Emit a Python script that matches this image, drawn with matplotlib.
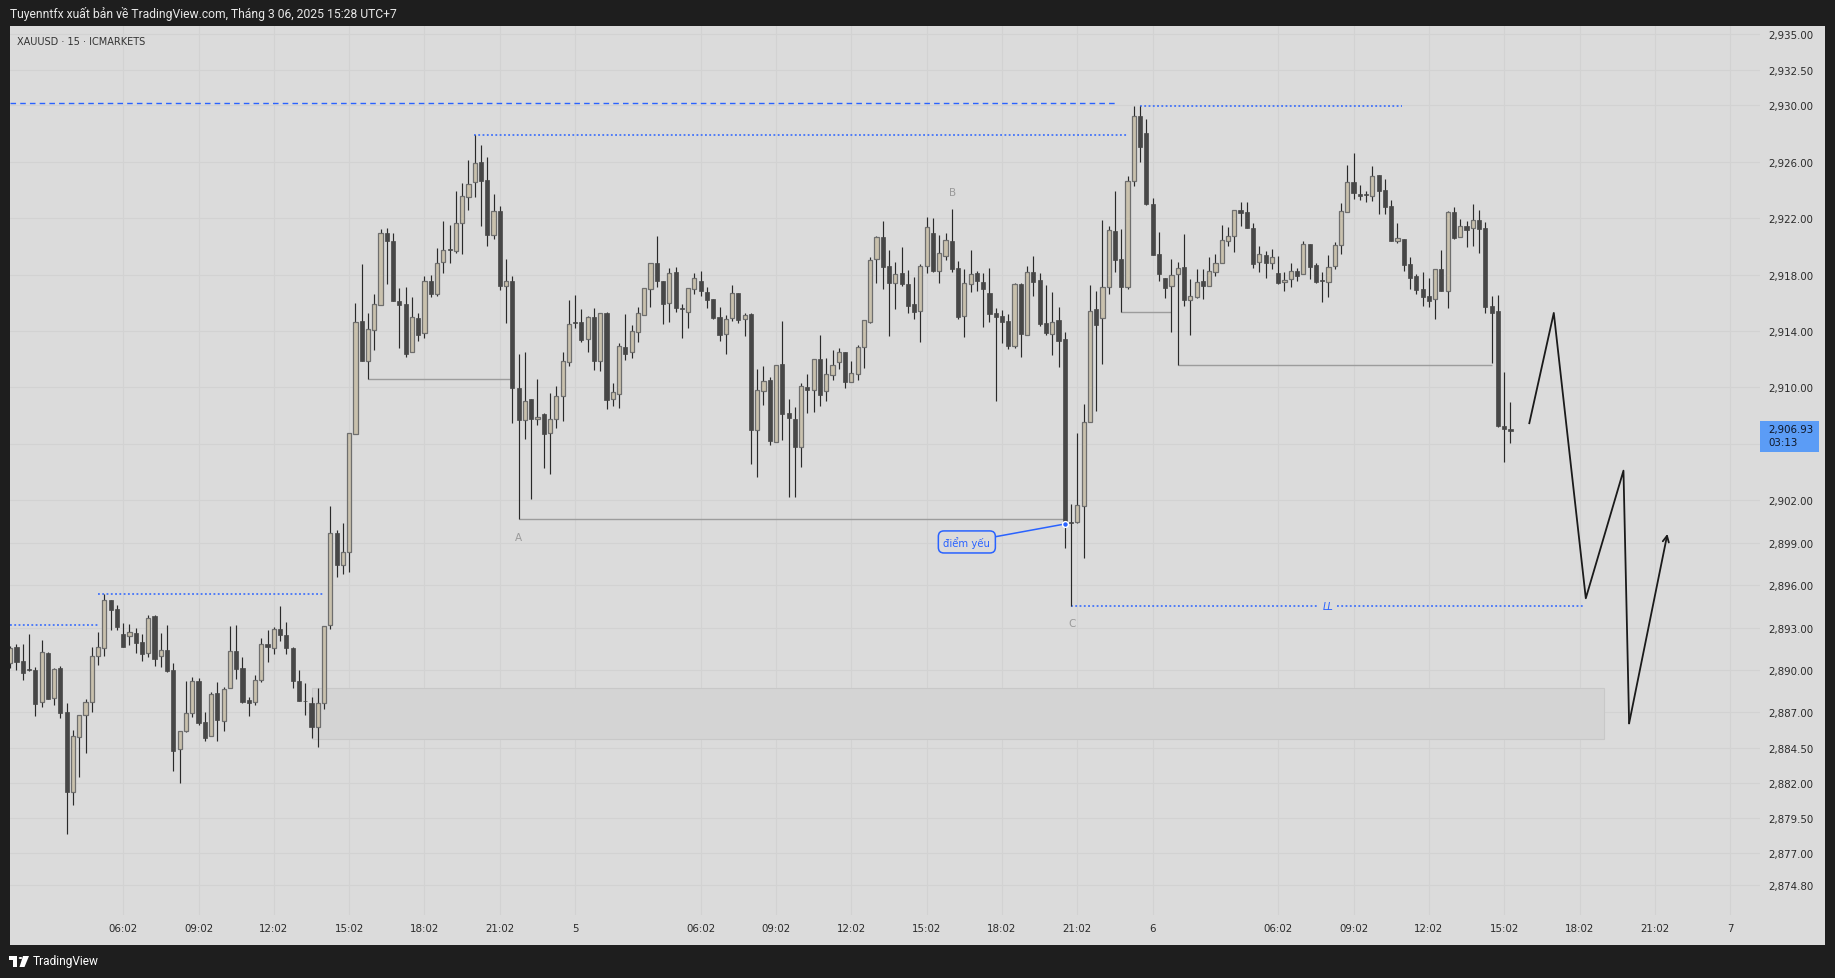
import matplotlib
matplotlib.use("Agg")
import matplotlib.pyplot as plt
from matplotlib.patches import Rectangle, Circle, Polygon
import numpy as np

# ---------------- data (XAUUSD 15m, ICMARKETS) ----------------
opens = [
 2890.47, 2891.60, 2890.61, 2889.97, 2889.97, 2887.70, 2891.17, 2887.99, 2890.13, 2886.99,
 2881.33, 2885.22, 2886.78, 2887.70, 2890.96, 2891.53, 2894.93, 2894.31, 2892.52, 2892.42,
 2892.61, 2891.98, 2891.17, 2893.82, 2890.96, 2891.39, 2889.97, 2884.37, 2885.70, 2886.92,
 2889.19, 2886.29, 2885.29, 2888.34, 2886.36, 2888.70, 2891.31, 2890.13, 2887.87, 2887.70,
 2889.26, 2891.83, 2891.52, 2892.88, 2892.45, 2891.52, 2889.18, 2887.77, 2887.62, 2885.95,
 2887.62, 2893.17, 2899.68, 2897.42, 2898.37, 2906.70, 2914.71, 2911.90, 2914.04, 2915.86,
 2920.92, 2920.40, 2916.12, 2915.92, 2912.48, 2914.91, 2913.84, 2917.54, 2916.64, 2918.87,
 2919.74, 2919.68, 2921.62, 2923.52, 2924.54, 2925.98, 2924.68, 2920.78, 2922.48, 2917.16,
 2917.54, 2909.94, 2907.67, 2909.18, 2907.74, 2908.12, 2906.75, 2907.74, 2909.37, 2911.78,
 2914.57, 2914.61, 2913.41, 2914.97, 2911.90, 2915.25, 2909.16, 2909.52, 2912.84, 2912.49,
 2913.91, 2915.11, 2916.95, 2918.79, 2917.52, 2915.96, 2918.16, 2915.54, 2915.32, 2916.95,
 2917.52, 2916.74, 2916.27, 2914.99, 2913.77, 2914.90, 2916.67, 2914.83, 2915.21, 2907.01,
 2909.78, 2910.53, 2906.16, 2911.66, 2908.19, 2907.77, 2905.81, 2910.01, 2909.85, 2912.02,
 2909.78, 2910.91, 2911.78, 2912.51, 2910.37, 2910.93, 2912.85, 2914.66, 2919.08, 2920.66,
 2918.61, 2917.42, 2918.09, 2917.31, 2915.89, 2915.39, 2918.58, 2920.92, 2918.23, 2919.29,
 2920.38, 2918.46, 2915.04, 2917.35, 2918.09, 2917.45, 2916.69, 2915.28, 2915.09, 2914.71,
 2912.96, 2917.33, 2913.69, 2918.16, 2917.61, 2914.57, 2913.81, 2914.78, 2913.43, 2900.40,
 2900.45, 2901.63, 2907.53, 2915.56, 2914.90, 2917.09, 2921.06, 2919.10, 2917.14, 2924.60,
 2929.20, 2928.00, 2922.99, 2919.43, 2917.75, 2917.16, 2918.01, 2918.53, 2916.17, 2916.39,
 2917.54, 2917.16, 2918.16, 2918.79, 2920.35, 2920.71, 2922.55, 2922.41, 2921.27, 2918.86,
 2919.36, 2918.79, 2918.11, 2917.45, 2917.66, 2918.25, 2918.01, 2920.14, 2918.68, 2917.52,
 2917.45, 2918.58, 2920.07, 2922.41, 2924.53, 2923.70, 2923.61, 2923.59, 2925.03, 2923.99,
 2922.85, 2920.40, 2920.49, 2918.72, 2917.90, 2916.98, 2916.48, 2916.24, 2918.37, 2916.81,
 2922.43, 2920.64, 2921.44, 2921.27, 2921.84, 2921.27, 2915.75, 2915.42, 2907.27, 2907.04]
highs = [
 2891.67, 2891.83, 2891.83, 2892.52, 2890.18, 2892.12, 2891.27, 2890.13, 2890.25, 2887.66,
 2885.72, 2886.78, 2887.94, 2891.60, 2892.66, 2895.35, 2894.93, 2894.60, 2893.30, 2893.25,
 2892.97, 2892.54, 2893.89, 2893.89, 2892.61, 2893.18, 2890.47, 2885.70, 2889.21, 2889.50,
 2889.40, 2887.02, 2888.41, 2889.12, 2888.77, 2893.08, 2893.16, 2890.89, 2888.08, 2889.61,
 2892.24, 2892.83, 2893.03, 2894.53, 2893.40, 2891.64, 2889.99, 2889.04, 2888.06, 2888.69,
 2893.09, 2901.61, 2899.88, 2900.40, 2906.76, 2915.98, 2918.75, 2915.28, 2916.59, 2921.21,
 2921.27, 2920.92, 2917.08, 2917.11, 2916.41, 2915.26, 2917.91, 2917.97, 2919.91, 2921.79,
 2921.50, 2923.90, 2924.45, 2926.12, 2927.86, 2927.14, 2926.33, 2923.70, 2922.86, 2919.10,
 2917.89, 2912.39, 2912.51, 2909.18, 2910.60, 2908.17, 2909.61, 2910.08, 2912.51, 2916.20,
 2916.55, 2915.56, 2915.09, 2915.63, 2915.25, 2915.37, 2910.32, 2913.15, 2915.21, 2914.45,
 2915.73, 2917.02, 2918.79, 2920.73, 2917.52, 2918.46, 2918.53, 2915.91, 2917.02, 2918.11,
 2918.25, 2917.14, 2916.27, 2915.70, 2915.13, 2917.26, 2916.67, 2915.25, 2915.25, 2911.31,
 2911.52, 2910.77, 2911.57, 2914.71, 2909.19, 2908.59, 2910.32, 2910.93, 2912.02, 2913.74,
 2912.11, 2912.66, 2912.77, 2912.51, 2911.88, 2913.03, 2914.76, 2919.27, 2920.73, 2921.79,
 2919.74, 2918.89, 2919.95, 2918.32, 2917.80, 2918.75, 2922.08, 2922.00, 2920.82, 2920.94,
 2922.64, 2918.96, 2918.39, 2919.74, 2918.25, 2918.11, 2918.44, 2915.63, 2915.49, 2915.21,
 2917.38, 2917.38, 2918.58, 2919.29, 2918.11, 2917.26, 2916.79, 2915.70, 2913.91, 2901.75,
 2906.78, 2908.83, 2917.26, 2916.83, 2921.86, 2921.41, 2923.92, 2921.23, 2925.00, 2929.90,
 2929.90, 2929.00, 2923.42, 2920.99, 2917.75, 2919.10, 2918.86, 2920.87, 2917.68, 2918.39,
 2918.39, 2919.22, 2919.48, 2921.51, 2921.34, 2922.55, 2923.11, 2923.14, 2921.65, 2920.02,
 2919.67, 2919.81, 2919.29, 2918.20, 2918.82, 2918.44, 2920.38, 2920.14, 2918.84, 2918.18,
 2919.38, 2920.28, 2923.07, 2925.76, 2926.61, 2924.34, 2923.92, 2925.69, 2925.03, 2924.77,
 2923.26, 2921.65, 2920.49, 2919.24, 2918.04, 2918.20, 2917.75, 2918.37, 2919.74, 2922.50,
 2922.78, 2921.93, 2921.79, 2923.00, 2922.57, 2921.70, 2916.48, 2916.55, 2911.10, 2908.97]
lows = [
 2890.11, 2890.02, 2889.31, 2889.95, 2886.76, 2887.40, 2887.96, 2887.54, 2886.62, 2878.38,
 2880.45, 2882.44, 2884.14, 2887.04, 2890.35, 2891.01, 2892.85, 2892.85, 2891.64, 2891.76,
 2891.20, 2890.65, 2890.94, 2890.30, 2890.23, 2889.87, 2882.86, 2882.01, 2885.63, 2886.69,
 2886.12, 2884.99, 2885.29, 2884.99, 2885.70, 2888.70, 2889.38, 2887.66, 2886.76, 2887.54,
 2889.17, 2890.58, 2891.09, 2892.02, 2891.15, 2888.69, 2887.82, 2886.81, 2885.14, 2884.56,
 2887.25, 2892.88, 2896.55, 2896.79, 2896.93, 2906.70, 2911.90, 2910.63, 2912.68, 2915.86,
 2917.31, 2916.09, 2912.83, 2912.19, 2912.48, 2913.26, 2913.49, 2916.44, 2916.50, 2918.12,
 2918.84, 2919.53, 2919.48, 2922.60, 2923.52, 2921.44, 2920.05, 2920.55, 2916.93, 2914.56,
 2907.48, 2900.69, 2906.35, 2902.10, 2907.34, 2904.32, 2903.90, 2907.16, 2907.65, 2911.54,
 2914.21, 2913.25, 2912.54, 2911.24, 2911.19, 2908.48, 2908.71, 2908.57, 2911.95, 2912.09,
 2913.20, 2915.11, 2915.72, 2917.14, 2914.52, 2914.66, 2915.37, 2913.53, 2914.24, 2916.62,
 2916.50, 2915.63, 2914.85, 2913.32, 2912.40, 2914.73, 2914.57, 2913.65, 2904.58, 2903.68,
 2908.76, 2905.93, 2906.16, 2906.31, 2902.22, 2902.27, 2904.39, 2908.19, 2908.29, 2908.71,
 2909.07, 2910.53, 2911.31, 2909.96, 2910.37, 2910.53, 2911.41, 2914.54, 2917.42, 2917.00,
 2913.67, 2915.58, 2917.16, 2915.30, 2914.83, 2913.25, 2918.09, 2918.20, 2917.38, 2919.05,
 2918.20, 2914.85, 2913.60, 2916.79, 2916.83, 2914.31, 2914.66, 2909.07, 2913.15, 2912.73,
 2912.82, 2912.18, 2913.69, 2916.50, 2914.35, 2913.69, 2912.30, 2911.47, 2898.61, 2894.50,
 2900.38, 2897.95, 2907.53, 2908.36, 2911.66, 2916.62, 2918.20, 2915.37, 2917.00, 2924.30,
 2926.00, 2922.92, 2919.41, 2917.57, 2916.36, 2913.95, 2911.59, 2915.80, 2913.74, 2916.32,
 2916.27, 2917.16, 2917.92, 2918.79, 2920.04, 2919.62, 2921.46, 2921.27, 2918.49, 2918.20,
 2917.78, 2918.39, 2917.33, 2916.86, 2917.14, 2917.57, 2918.01, 2917.68, 2917.42, 2916.08,
 2916.43, 2918.42, 2919.48, 2922.41, 2923.37, 2923.30, 2923.16, 2923.23, 2922.31, 2922.31,
 2920.40, 2920.26, 2918.27, 2916.98, 2916.65, 2915.80, 2915.73, 2914.87, 2916.86, 2915.65,
 2920.54, 2920.64, 2919.97, 2920.04, 2919.55, 2915.25, 2911.76, 2907.18, 2904.75, 2906.05]
closes = [
 2891.53, 2890.58, 2889.80, 2889.97, 2887.61, 2891.24, 2887.96, 2890.04, 2886.97, 2881.38,
 2885.29, 2886.78, 2887.70, 2890.96, 2891.60, 2894.93, 2894.27, 2893.06, 2891.64, 2892.66,
 2891.93, 2891.15, 2893.65, 2890.75, 2891.39, 2889.95, 2884.28, 2885.70, 2886.92, 2889.19,
 2886.26, 2885.20, 2888.27, 2886.48, 2888.62, 2891.31, 2890.09, 2887.73, 2887.68, 2889.26,
 2891.81, 2891.60, 2892.88, 2892.45, 2891.52, 2889.18, 2887.82, 2887.77, 2885.95, 2887.68,
 2893.09, 2899.68, 2897.42, 2898.37, 2906.76, 2914.62, 2911.90, 2914.13, 2915.89, 2920.92,
 2920.34, 2916.09, 2915.86, 2912.39, 2914.97, 2913.75, 2917.51, 2916.64, 2918.81, 2919.74,
 2919.74, 2921.65, 2923.58, 2924.39, 2925.89, 2924.59, 2920.83, 2922.48, 2917.22, 2917.51,
 2909.94, 2907.71, 2909.02, 2907.79, 2907.91, 2906.73, 2907.74, 2909.37, 2911.85, 2914.47,
 2914.57, 2913.39, 2914.97, 2911.90, 2915.25, 2909.14, 2909.66, 2912.91, 2912.39, 2913.98,
 2915.25, 2917.02, 2918.79, 2917.57, 2915.94, 2918.09, 2915.65, 2915.54, 2917.02, 2917.78,
 2916.81, 2916.22, 2914.95, 2913.74, 2914.83, 2916.67, 2914.80, 2915.11, 2907.01, 2909.80,
 2910.44, 2906.21, 2911.57, 2908.15, 2907.86, 2905.81, 2910.11, 2909.85, 2912.02, 2909.49,
 2910.93, 2911.57, 2912.49, 2910.37, 2911.03, 2912.85, 2914.76, 2919.03, 2920.66, 2918.56,
 2917.42, 2918.01, 2917.35, 2915.79, 2915.37, 2918.58, 2921.34, 2918.27, 2919.50, 2920.42,
 2918.39, 2915.02, 2917.38, 2918.01, 2917.54, 2917.00, 2915.23, 2915.02, 2914.66, 2912.96,
 2917.31, 2913.79, 2918.16, 2917.49, 2914.47, 2913.86, 2914.61, 2913.29, 2900.33, 2900.40,
 2901.65, 2907.53, 2915.39, 2914.45, 2917.09, 2921.13, 2919.05, 2917.14, 2924.60, 2929.20,
 2927.00, 2922.99, 2919.41, 2918.06, 2917.07, 2917.94, 2918.44, 2916.22, 2916.46, 2917.45,
 2917.21, 2918.23, 2918.79, 2920.42, 2920.71, 2922.55, 2922.38, 2921.27, 2918.77, 2919.43,
 2918.79, 2919.22, 2917.42, 2917.59, 2918.23, 2917.92, 2920.14, 2918.56, 2917.49, 2917.52,
 2918.51, 2920.07, 2922.48, 2924.53, 2923.75, 2923.59, 2923.61, 2924.96, 2923.94, 2922.76,
 2920.40, 2920.56, 2918.70, 2917.78, 2916.93, 2916.43, 2916.15, 2918.37, 2916.86, 2922.43,
 2920.61, 2921.41, 2921.18, 2921.84, 2921.25, 2915.73, 2915.30, 2907.30, 2907.04, 2906.93]

time_tick_pos = [18, 30, 42, 54, 66, 78, 90, 110, 122, 134, 146, 158, 170, 182,
                 202, 214, 226, 238, 250, 262, 274]
time_tick_labels = ["06:02", "09:02", "12:02", "15:02", "18:02", "21:02", "5",
                    "06:02", "09:02", "12:02", "15:02", "18:02", "21:02", "6",
                    "06:02", "09:02", "12:02", "15:02", "18:02", "21:02", "7"]
price_ticks = [2935.0, 2932.5, 2930.0, 2926.0, 2922.0, 2918.0, 2914.0, 2910.0, 2906.0,
               2902.0, 2899.0, 2896.0, 2893.0, 2890.0, 2887.0, 2884.5, 2882.0, 2879.5,
               2877.0, 2874.8]
hidden_price_tick = 2906.0   # label covered by the last-price badge

# drawn levels / annotations (bar index, price)
prev_high_level = 2930.13
prev_high_end = 176
high2_level = 2929.92
high2_span = (180, 221.7)
early_level = 2893.16
zone_span = (48, 253.9)
zone_prices = (2885.08, 2888.69)
projection_idx = [242.0, 245.9, 251.0, 257.0, 257.9, 264.0]
projection_price = [2907.47, 2915.28, 2895.07, 2904.11, 2886.22, 2899.63]
countdown = "03:13"

# ---------------- style ----------------
plt.rcParams["font.family"] = ["DejaVu Sans"]
W, H = 1835, 979
BG = "#dbdbdb"
GRID = "#d2d2d2"
FRAME = "#1e1e1e"
BULL = "#c9c1ad"
BULL_EDGE = "#6e6e6e"
BEAR = "#474747"
WICK = "#2a2a2a"
BLUE = "#2962ff"
LEVEL = "#9c9c9c"
TXT = "#2b2b2b"

fig = plt.figure(figsize=(W / 100, H / 100), dpi=100, facecolor=FRAME)


def fx(px):
    return px / W


def fy(py):
    return 1 - py / H


fig.patches.append(Rectangle((fx(10), fy(946)), fx(1825) - fx(10), fy(27) - fy(946),
                             transform=fig.transFigure, facecolor=BG, edgecolor="none",
                             zorder=-2))

ax = fig.add_axes([fx(10), fy(916), fx(1760) - fx(10), fy(27) - fy(916)])
ax.set_facecolor(BG)
ax.set_xlim(-0.03, 278.75)
ax.set_ylim(2872.64, 2935.60)
for s in ax.spines.values():
    s.set_visible(False)

ax.set_xticks(time_tick_pos)
ax.set_xticklabels(time_tick_labels)
ax.set_yticks(price_ticks)
ax.set_yticklabels(["" if v == hidden_price_tick else f"{v:,.2f}" for v in price_ticks])
ax.yaxis.tick_right()
ax.tick_params(axis="x", length=0, pad=6, labelsize=7.4, labelcolor=TXT)
ax.tick_params(axis="y", length=0, pad=6, labelsize=7.4, labelcolor=TXT)
ax.grid(True, color=GRID, lw=0.8)
ax.set_axisbelow(True)

o = np.array(opens)
h = np.array(highs)
l = np.array(lows)
c = np.array(closes)
idx = np.arange(len(o))
up = c > o

# zone
ax.add_patch(Rectangle((zone_span[0], zone_prices[0]), zone_span[1] - zone_span[0],
                       zone_prices[1] - zone_prices[0], facecolor="#d4d4d4",
                       edgecolor="#c8c8c8", lw=0.8, zorder=1))

# candles
ax.vlines(idx, l, h, color=WICK, lw=0.85, zorder=3)
bottom = np.minimum(o, c)
height = np.maximum(np.abs(c - o), 0.06)
ax.bar(idx[up], height[up], bottom=bottom[up], width=0.66, color=BULL,
       edgecolor=BULL_EDGE, linewidth=0.9, zorder=4)
ax.bar(idx[~up], height[~up], bottom=bottom[~up], width=0.66, color=BEAR,
       edgecolor=BEAR, linewidth=0.5, zorder=4)

dotted = (0, (1.2, 1.6))
# blue liquidity lines
ax.hlines(prev_high_level, 0, prev_high_end, colors=BLUE, linestyles=(0, (4, 3)), lw=1.0, zorder=2)
ax.hlines(high2_level, high2_span[0], high2_span[1], colors=BLUE, linestyles=dotted, lw=1.1, zorder=2)
ax.hlines(highs[74], 73.9, 177.9, colors=BLUE, linestyles=dotted, lw=1.1, zorder=2)
ax.hlines(highs[15], 14, 50, colors=BLUE, linestyles=dotted, lw=1.1, zorder=2)
ax.hlines(early_level, 0, 14, colors=BLUE, linestyles=dotted, lw=1.1, zorder=2)
ax.hlines(lows[169], 169, 208.4, colors=BLUE, linestyles=dotted, lw=1.1, zorder=2)
ax.hlines(lows[169], 211.4, 250.6, colors=BLUE, linestyles=dotted, lw=1.1, zorder=2)
ax.text(209.9, lows[169], "LL", color=BLUE, fontsize=7, style="italic",
        ha="center", va="center", zorder=5)

# gray structure lines
ax.hlines(lows[57], 57, 79.6, colors=LEVEL, lw=1.0, zorder=2)
ax.hlines(lows[81], 81, 167.8, colors=LEVEL, lw=1.0, zorder=2)
ax.hlines(lows[177], 177, 185, colors=LEVEL, lw=1.0, zorder=2)
ax.hlines(lows[186], 186, 236, colors=LEVEL, lw=1.0, zorder=2)

# point labels
ax.text(81, 2899.38, "A", color="#9a9a9a", fontsize=7.5, ha="center", va="center")
ax.text(150.1, 2923.85, "B", color="#9a9a9a", fontsize=7.5, ha="center", va="center")
ax.text(169.1, 2893.32, "C", color="#9a9a9a", fontsize=7.5, ha="center", va="center")

# callout
ax.annotate("điểm yếu", xy=(168, closes[168]), xytext=(152.4, 2899.06),
            ha="center", va="center", fontsize=7.3, color=BLUE, zorder=6,
            bbox=dict(boxstyle="round,pad=0.5,rounding_size=0.55", fc=BG, ec=BLUE, lw=1.1),
            arrowprops=dict(arrowstyle="-", color=BLUE, lw=1.1, shrinkA=0, shrinkB=0))
ax.plot(168, closes[168], "o", ms=4.2, mfc=BLUE, mec="white", mew=1.0, zorder=7)

# projection path
ax.plot(projection_idx[:-1], projection_price[:-1], color="#1a1a1a", lw=1.3, zorder=5)
ax.annotate("", xy=(projection_idx[-1], projection_price[-1]),
            xytext=(projection_idx[-2], projection_price[-2]),
            arrowprops=dict(arrowstyle="->", color="#1a1a1a", lw=1.3,
                            mutation_scale=11, shrinkA=0, shrinkB=0), zorder=5)

# header / footer texts
fig.text(fx(10), fy(14), "Tuyenntfx xuất bản về TradingView.com, Tháng 3 06, 2025 15:28 UTC+7",
         color="#e8e8e8", fontsize=8.7, family=["Roboto", "DejaVu Sans"], va="center", ha="left")
fig.text(fx(17), fy(42), "XAUUSD · 15 · ICMARKETS", color="#333333", fontsize=7.0,
         va="center", ha="left")

# TradingView logo + name
fig.patches.append(Rectangle((fx(9), fy(961)), fx(17) - fx(9), fy(957) - fy(961),
                             transform=fig.transFigure, facecolor="white", zorder=5))
fig.patches.append(Rectangle((fx(13), fy(968)), fx(17) - fx(13), fy(957) - fy(968),
                             transform=fig.transFigure, facecolor="white", zorder=5))
fig.patches.append(Circle((fx(20.5), fy(959)), 1.8 / W, transform=fig.transFigure,
                          facecolor="white", zorder=5))
fig.patches.append(Polygon([(fx(23), fy(957)), (fx(29), fy(957)), (fx(24.5), fy(968)),
                            (fx(19.5), fy(968))], closed=True, transform=fig.transFigure,
                           facecolor="white", zorder=5))
fig.text(fx(33), fy(962), "TradingView", color="white", fontsize=8.6,
         family=["Roboto", "DejaVu Sans"], va="center", ha="left")

# last price badge
fig.canvas.draw()
ypix = ax.transData.transform((0, closes[-1]))[1]
y_top = ypix + 10
y_bot = ypix - 21
fig.patches.append(Rectangle((fx(1760), y_bot / H), fx(1819) - fx(1760), (y_top - y_bot) / H,
                             transform=fig.transFigure, facecolor="#5b9cf6",
                             edgecolor="none", zorder=5))
fig.text(fx(1768), (ypix + 1.5) / H, f"{closes[-1]:,.2f}", color="#101828", fontsize=7.4,
         va="center", ha="left", zorder=6)
fig.text(fx(1768), (ypix - 11.5) / H, countdown, color="#101828", fontsize=7.4,
         va="center", ha="left", zorder=6)

fig.savefig("out.png", dpi=100, facecolor=FRAME)
